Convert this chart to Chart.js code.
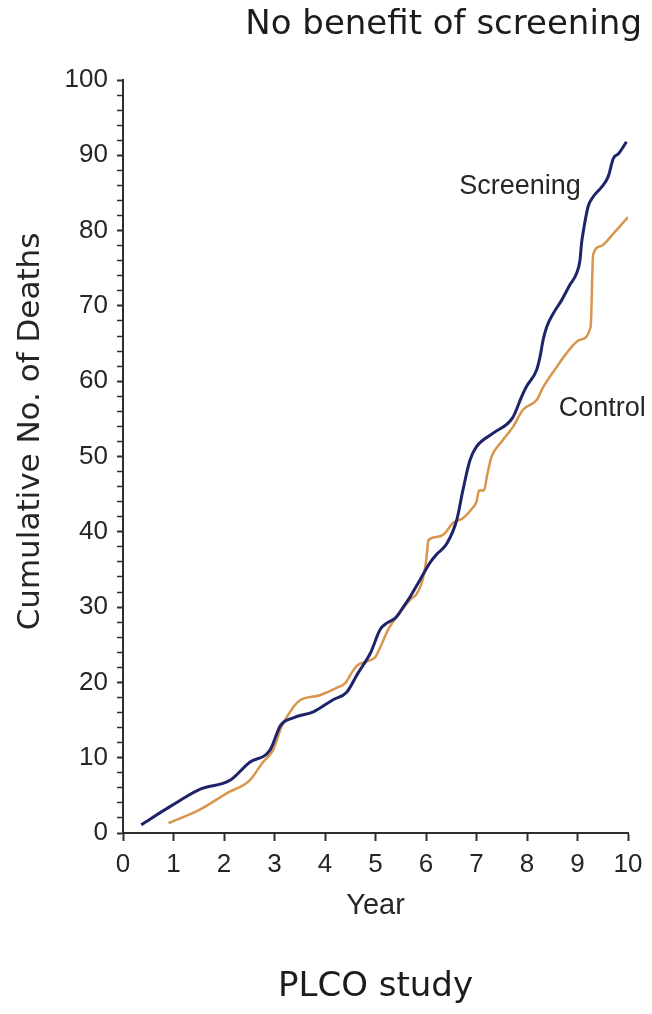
<!DOCTYPE html>
<html>
<head>
<meta charset="utf-8">
<title>PLCO study – cumulative deaths</title>
<script src="https://cdn.jsdelivr.net/npm/chart.js@4/dist/chart.umd.min.js"></script>
<style>
  html, body { margin: 0; padding: 0; background: #ffffff; }
  #wrap { width: 652px; height: 1014px; }
  canvas { display: block; }
</style>
</head>
<body>
<div id="wrap"><canvas id="deaths" width="652" height="1014"></canvas></div>
<script>
// Cumulative number of deaths by year of follow-up, PLCO trial arms
const screeningYears  = [0.36, 0.93, 1.52, 2.12, 2.51, 2.91, 3.12, 3.37, 3.77, 4.16, 4.43, 4.65, 4.90, 5.09, 5.23, 5.40, 5.55, 5.68, 5.88, 6.08, 6.21, 6.41, 6.61, 6.73, 6.87, 7.00, 7.33, 7.72, 7.89, 7.99, 8.19, 8.26, 8.32, 8.39, 8.52, 8.69, 8.85, 8.98, 9.05, 9.08, 9.12, 9.21, 9.31, 9.48, 9.61, 9.71, 9.81, 9.97];
const screeningDeaths = [1.1, 3.5, 5.8, 7.0, 9.4, 11.0, 14.3, 15.3, 16.1, 17.7, 18.7, 21.2, 23.9, 27.0, 27.9, 28.6, 30.0, 31.3, 33.6, 35.9, 37.0, 38.4, 41.6, 45.5, 49.5, 51.3, 53.1, 55.2, 57.9, 59.3, 61.5, 63.3, 65.5, 67.2, 69.0, 70.8, 72.8, 74.3, 76.1, 78.3, 80.1, 83.2, 84.5, 85.8, 87.2, 89.6, 90.2, 91.8];

const controlYears  = [0.90, 1.52, 2.06, 2.51, 2.77, 2.97, 3.14, 3.37, 3.50, 3.90, 4.24, 4.40, 4.55, 4.65, 4.83, 4.99, 5.09, 5.25, 5.45, 5.60, 5.72, 5.80, 5.92, 6.00, 6.05, 6.20, 6.34, 6.54, 6.73, 6.90, 7.00, 7.05, 7.15, 7.21, 7.30, 7.50, 7.72, 7.92, 8.19, 8.32, 8.59, 8.78, 9.05, 9.26, 9.31, 9.45, 9.71, 10.00];
const controlDeaths = [1.3, 3.1, 5.3, 7.0, 9.4, 11.0, 14.1, 16.7, 17.6, 18.3, 19.3, 19.9, 21.5, 22.3, 22.8, 23.3, 24.6, 27.0, 29.0, 30.3, 31.2, 31.6, 33.3, 36.0, 38.9, 39.3, 39.6, 41.2, 41.8, 43.0, 44.0, 45.5, 45.5, 47.5, 50.0, 52.0, 53.9, 56.2, 57.5, 59.2, 61.9, 63.7, 65.5, 67.2, 76.8, 77.9, 79.6, 81.8];

const xTickLabels = ['0', '1', '2', '3', '4', '5', '6', '7', '8', '9', '10'];
const yTickLabels = ['0', '10', '20', '30', '40', '50', '60', '70', '80', '90', '100'];

const toPoints = (xs, ys) => xs.map((x, i) => ({ x: x, y: ys[i] }));

const AXIS = '#2e2e2e';
const TEXT = '#262626';
const SANS = '"Liberation Sans", Arial, Helvetica, sans-serif';
const WIDE = '"DejaVu Sans", Verdana, sans-serif';

// Free-standing text: series names next to their curves and the vertical axis title
const curveLabels = {
  id: 'curveLabels',
  afterDatasetsDraw(chart, args, opts) {
    const { ctx, chartArea, scales } = chart;
    ctx.save();
    ctx.fillStyle = opts.color;
    ctx.textAlign = 'center';
    ctx.textBaseline = 'middle';
    ctx.font = opts.labelFont;
    for (const item of opts.items) {
      ctx.fillText(item.text, scales.x.getPixelForValue(item.x), scales.y.getPixelForValue(item.y));
    }
    ctx.translate(chartArea.left - 92, (chartArea.top + chartArea.bottom) / 2 - 25);
    ctx.rotate(-Math.PI / 2);
    ctx.font = opts.axisFont;
    ctx.fillText(opts.axisTitle, 0, 0);
    ctx.restore();
  }
};

new Chart(document.getElementById('deaths'), {
  type: 'line',
  data: {
    datasets: [
      {
        label: 'Screening',
        data: toPoints(screeningYears, screeningDeaths),
        borderColor: '#1f246a',
        borderWidth: 3,
        pointRadius: 0,
        cubicInterpolationMode: 'monotone',
        fill: false
      },
      {
        label: 'Control',
        data: toPoints(controlYears, controlDeaths),
        borderColor: '#d8964c',
        borderWidth: 2.5,
        pointRadius: 0,
        cubicInterpolationMode: 'monotone',
        fill: false
      }
    ]
  },
  options: {
    responsive: false,
    animation: false,
    devicePixelRatio: 1,
    layout: { padding: { left: 0, right: 10, top: 0, bottom: 0 } },
    plugins: {
      legend: { display: false },
      tooltip: { enabled: false },
      title: {
        display: true,
        text: 'No benefit of screening',
        align: 'end',
        color: '#1c1c1c',
        font: { family: WIDE, size: 34, weight: 'normal', lineHeight: 1.2 },
        padding: { top: 5, bottom: 34.2 }
      },
      subtitle: {
        display: true,
        position: 'bottom',
        fullSize: false,
        text: 'PLCO study',
        color: '#1c1c1c',
        font: { family: WIDE, size: 34, weight: 'normal', lineHeight: 1.2 },
        padding: { top: 43.6, bottom: 6.6 }
      },
      curveLabels: {
        color: TEXT,
        labelFont: '27px ' + SANS,
        axisFont: '31px ' + WIDE,
        axisTitle: 'Cumulative No. of Deaths',
        items: [
          { text: 'Screening', x: 7.86, y: 85.9 },
          { text: 'Control', x: 9.49, y: 56.4 }
        ]
      }
    },
    scales: {
      x: {
        type: 'linear',
        min: 0,
        max: 10,
        afterFit(scale) {
          scale.height = 90;
          scale.paddingRight = Math.max(scale.paddingRight, 24);
        },
        ticks: {
          stepSize: 1,
          autoSkip: false,
          maxRotation: 0,
          padding: 8,
          color: TEXT,
          font: { family: SANS, size: 26, lineHeight: 1.2 },
          callback: (v) => xTickLabels[v] ?? ''
        },
        grid: {
          display: true,
          drawOnChartArea: false,
          drawTicks: true,
          tickLength: 8,
          tickColor: AXIS,
          tickWidth: 2
        },
        border: { display: true, color: AXIS, width: 2 },
        title: {
          display: true,
          text: 'Year',
          color: TEXT,
          font: { family: SANS, size: 29, lineHeight: 1.2 },
          padding: { top: 0, bottom: 0 }
        }
      },
      y: {
        type: 'linear',
        min: 0,
        max: 100,
        afterFit(scale) {
          scale.width = 123;
        },
        ticks: {
          stepSize: 2,
          autoSkip: false,
          padding: 9,
          color: TEXT,
          font: { family: SANS, size: 26, lineHeight: 1.2 },
          callback: (v) => (yTickLabels.includes(String(v)) ? String(v) : '')
        },
        grid: {
          display: true,
          drawOnChartArea: false,
          drawTicks: true,
          tickLength: 6,
          tickColor: AXIS,
          tickWidth: (c) => (c.tick && c.tick.value % 10 === 0 ? 2 : 1.5)
        },
        border: { display: true, color: AXIS, width: 2 }
      }
    }
  },
  plugins: [curveLabels]
});
</script>
</body>
</html>
